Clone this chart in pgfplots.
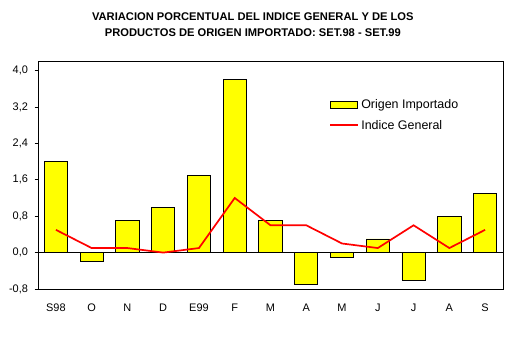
\documentclass[border=0pt]{standalone}
\usepackage{pgfplots}
\pgfplotsset{compat=1.18}
\usepackage{fontspec}
\setmainfont{Liberation Sans}
\definecolor{baryellow}{RGB}{255,255,0}
\definecolor{linered}{RGB}{255,0,0}
\begin{document}
\begin{tikzpicture}
\useasboundingbox (0,0) rectangle (508bp,-352bp);
\begin{axis}[
  at={(38bp,-289bp)}, anchor=south west,
  scale only axis, width=465bp, height=228bp,
  xmin=-0.5, xmax=12.5, ymin=-0.8, ymax=4.21,
  xtick={0,...,12},
  xticklabels={S98,O,N,D,E99,F,M,A,M,J,J,A,S},
  xtick style={draw=none},
  ytick={-0.8,0,0.8,1.6,2.4,3.2,4.0},
  tick align=outside, major tick length=3.5bp,
  ytick pos=left,
  axis line style={line width=0.9bp},
  every tick/.style={black, line width=0.9bp},
  /pgf/number format/.cd, use comma, fixed, fixed zerofill, precision=1, assume math mode=true,
  /pgfplots/.cd,
  yticklabel style={font=\fontsize{11}{13}\selectfont, xshift=-3bp},
  xticklabel style={font=\fontsize{11}{13}\selectfont, yshift=-8bp},
  title={VARIACION PORCENTUAL DEL INDICE GENERAL Y DE LOS\\PRODUCTOS DE ORIGEN IMPORTADO: SET.98 - SET.99},
  title style={at={(0.462,1.133)}, anchor=center, align=center, font=\bfseries\fontsize{11.2}{16}\selectfont},
  legend style={draw=none, fill=none, at={(0.626,0.84)}, anchor=north west,
    font=\fontsize{12.5}{14}\selectfont, row sep=6bp, inner sep=0pt,
    /tikz/every even column/.append style={column sep=2bp}},
  legend cell align=left,
]
\addplot[forget plot, black, line width=0.9bp] coordinates {(-0.5,0) (12.5,0)};
\addplot[ybar, bar width=0.65, fill=baryellow, draw=black, line width=0.8bp,
  legend image code/.code={\draw[fill=baryellow, draw=black, line width=0.8bp] (0bp,-3.6bp) rectangle (27bp,3.6bp);}]
  coordinates {(0,2.0) (1,-0.2) (2,0.7) (3,1.0) (4,1.7) (5,3.8) (6,0.7) (7,-0.7) (8,-0.1) (9,0.3) (10,-0.6) (11,0.8) (12,1.3)};
\addlegendentry{Origen Importado}
\addplot[color=linered, line width=1.7bp, mark=none, sharp plot,
  legend image code/.code={\draw[draw=linered, line width=2bp] (0bp,0.5bp) -- (28bp,0.5bp);}]
  coordinates {(0,0.5) (1,0.1) (2,0.1) (3,0.0) (4,0.1) (5,1.2) (6,0.6) (7,0.6) (8,0.2) (9,0.1) (10,0.6) (11,0.1) (12,0.5)};
\addlegendentry{Indice General}
\end{axis}
\end{tikzpicture}
\end{document}
